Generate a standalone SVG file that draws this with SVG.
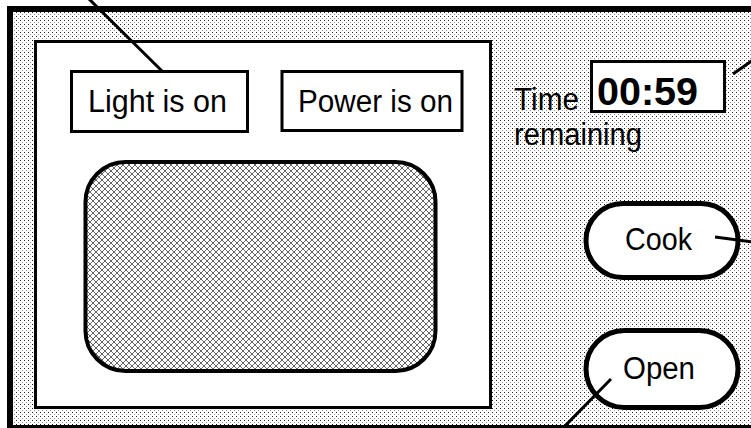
<svg xmlns="http://www.w3.org/2000/svg" width="751" height="428" viewBox="0 0 751 428">
<defs>
<pattern id="dots" width="4" height="4" patternUnits="userSpaceOnUse">
<rect width="4" height="4" fill="#ffffff"/>
<rect x="0" y="0" width="1" height="1" fill="#222"/>
<rect x="2" y="2" width="1" height="1" fill="#999"/>
</pattern>
<pattern id="hatch" width="6" height="6" patternUnits="userSpaceOnUse">
<rect width="6" height="6" fill="#ffffff"/>
<path d="M0,0 L6,6 M6,0 L0,6" stroke="#666" stroke-width="1"/>
</pattern>
<style>
.lbl{font-family:"Liberation Sans",Arial,sans-serif;font-size:31px;fill:#000}
.box{fill:#fff;stroke:#000;stroke-width:3}
.btn{fill:#fff;stroke:#000;stroke-width:5}
.conn{stroke:#000;stroke-width:3;fill:none}
</style>
</defs>
<rect width="751" height="428" fill="#fff"/>
<g id="frame">
<rect x="10" y="9" width="760" height="419" fill="url(#dots)" stroke="#000" stroke-width="6"/>
</g>
<g id="panel">
<rect x="35.5" y="41.5" width="455" height="366" class="box"/>
</g>
<g id="window">
<rect x="85.5" y="162" width="350" height="209" rx="40" fill="url(#hatch)" stroke="#000" stroke-width="4"/>
</g>
<g id="light">
<rect x="71.5" y="71.5" width="176" height="60" class="box"/>
<text x="88" y="112" class="lbl" textLength="139" lengthAdjust="spacingAndGlyphs">Light is on</text>
</g>
<g id="power">
<rect x="282" y="71.5" width="180" height="59" class="box"/>
<text x="298" y="112" class="lbl" textLength="155" lengthAdjust="spacingAndGlyphs">Power is on</text>
</g>
<g id="timelabel">
<text x="514" y="110" class="lbl" textLength="65" lengthAdjust="spacingAndGlyphs">Time</text>
<text x="514" y="145" class="lbl" textLength="128" lengthAdjust="spacingAndGlyphs">remaining</text>
</g>
<g id="timer">
<rect x="591.5" y="61.5" width="133" height="50" class="box"/>
<text x="597" y="105" class="lbl" style="font-weight:bold;font-size:39.5px">00:59</text>
</g>
<g id="cook">
<rect x="586" y="203.5" width="152" height="74" rx="37" class="btn"/>
<text x="625" y="250" class="lbl" textLength="67" lengthAdjust="spacingAndGlyphs">Cook</text>
</g>
<g id="open">
<rect x="586" y="330.5" width="152" height="77" rx="38.5" class="btn"/>
<text x="623" y="379" class="lbl" textLength="72" lengthAdjust="spacingAndGlyphs">Open</text>
</g>
<g id="connectors">
<line x1="88" y1="-2" x2="162" y2="71" class="conn"/>
<line x1="733" y1="74" x2="753" y2="60" class="conn"/>
<line x1="715" y1="237" x2="753" y2="242" class="conn"/>
<line x1="611" y1="379" x2="561" y2="430" class="conn"/>
</g>
</svg>
